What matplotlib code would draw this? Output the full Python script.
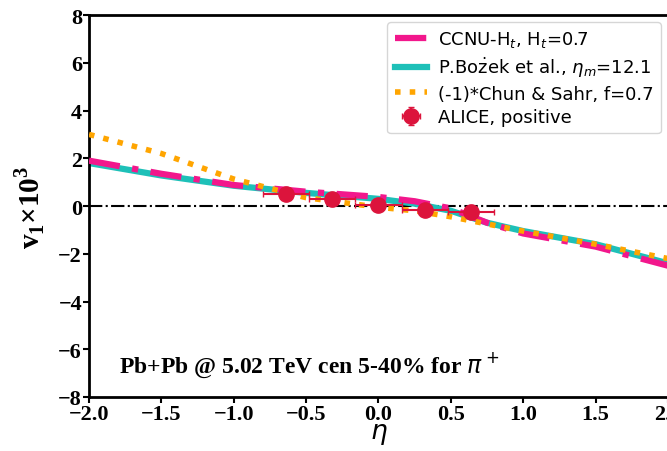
import numpy as np
import matplotlib.pyplot as plt

# model curves
eta = [-2.0, -1.5, -1.0, -0.5, 0.0, 0.25, 0.5, 0.75, 1.0, 1.5, 2.0]
ccnu = [1.9, 1.35, 0.88, 0.6, 0.38, 0.2, -0.1, -0.7, -1.15, -1.7, -2.5]
bozek = [1.8, 1.28, 0.85, 0.55, 0.3, 0.1, -0.2, -0.7, -1.05, -1.6, -2.4]
chun = [3.0, 2.2, 1.13, 0.35, -0.05, -0.2, -0.45, -0.75, -1.05, -1.6, -2.2]

# ALICE data
alice_eta = [-0.64, -0.32, 0.0, 0.32, 0.64]
alice_v1 = [0.5, 0.3, 0.05, -0.17, -0.27]
alice_xerr = [0.16, 0.16, 0.16, 0.16, 0.16]
alice_yerr = [0.05, 0.05, 0.05, 0.05, 0.05]

fig = plt.figure(figsize=(6.67, 4.52), dpi=100)
ax = fig.add_axes([0.1334, 0.1195, 0.868, 0.845])

ax.axhline(0, color='black', ls='-.', lw=1.5, zorder=1)
ax.plot(eta, bozek, color='#1ec0b8', lw=4.5, ls='-', label=r'P.Bo$\dot{\rm z}$ek et al., $\eta_m$=12.1', zorder=2)
ax.plot(eta, ccnu, color='#f2178c', lw=4.5, ls=(0, (5, 2, 1, 2)), label=r'CCNU-H$_t$, H$_t$=0.7', zorder=3)
ax.plot(eta, chun, color='#ffa500', lw=4, ls=':', label='(-1)*Chun & Sahr, f=0.7', zorder=4)
ax.errorbar(alice_eta, alice_v1, xerr=alice_xerr, yerr=alice_yerr, fmt='o', color='#dc143c',
            ms=11, elinewidth=1.5, capsize=2, label='ALICE, positive', zorder=5)

handles, labels = ax.get_legend_handles_labels()
order = [1, 0, 2, 3]
ax.legend([handles[i] for i in order], [labels[i] for i in order], loc='upper right',
          fontsize=13, frameon=True, borderaxespad=0.4, handlelength=1.8,
          handletextpad=0.6, labelspacing=0.3, borderpad=0.4)

ax.set_xlim(-2, 2)
ax.set_ylim(-8, 8)
ax.set_xticks(np.arange(-2.0, 2.01, 0.5))
ax.set_yticks(np.arange(-8, 9, 2))
for lab in ax.get_xticklabels() + ax.get_yticklabels():
    lab.set_fontfamily('Liberation Serif')
    lab.set_fontweight('bold')
    lab.set_fontsize(16)
ax.tick_params(width=1.5, length=4, pad=1)
for s in ax.spines.values():
    s.set_linewidth(2)

ax.set_xlabel(r'$\eta$', fontsize=19, labelpad=-3)
ax.set_ylabel(r'v$_\mathregular{1}$×10$^\mathregular{3}$', fontsize=21,
              fontfamily='Liberation Serif', fontweight='bold', labelpad=8)
ax.text(-1.79, -6.95, r'Pb+Pb @ 5.02 TeV cen 5-40% for $\pi^+$', fontsize=17,
        fontfamily='Liberation Serif', fontweight='bold')

fig.savefig('out.png', dpi=100)
